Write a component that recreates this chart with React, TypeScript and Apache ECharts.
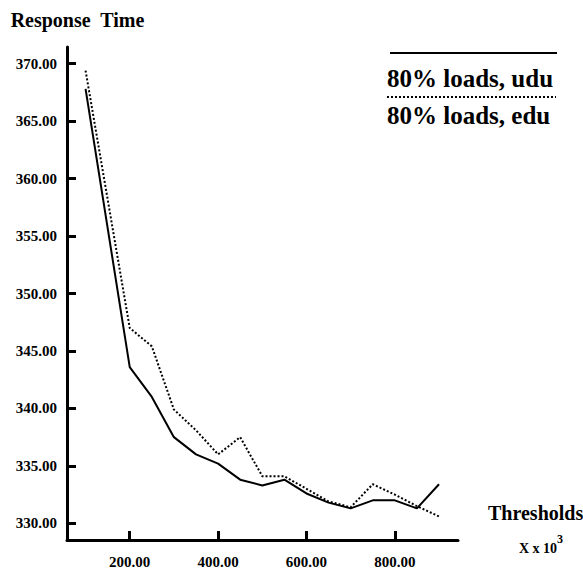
import React, { useEffect, useRef } from "react";
import * as echarts from "echarts";

const thresholds = [100, 200, 250, 300, 350, 400, 450, 500, 550, 600, 650, 700, 750, 800, 850, 900];
const udu = [367.8, 343.6, 341.0, 337.5, 336.0, 335.2, 333.8, 333.3, 333.8, 332.6, 331.8, 331.3, 332.0, 332.0, 331.3, 333.4];
const edu = [369.4, 347.0, 345.4, 339.9, 338.1, 336.0, 337.5, 334.1, 334.1, 333.0, 331.9, 331.4, 333.4, 332.5, 331.5, 330.6];
const xTicks = [200, 400, 600, 800];
const yTicks = [330, 335, 340, 345, 350, 355, 360, 365, 370];
const legendNames = ["80% loads, udu", "80% loads, edu"];

const FONT = '"Liberation Serif", "Times New Roman", serif';

export default function App() {
  const ref = useRef<HTMLDivElement>(null);
  useEffect(() => {
    if (!ref.current) return;
    const chart = echarts.init(ref.current, null, { renderer: "svg" });
    chart.setOption({
      animation: false,
      backgroundColor: "#ffffff",
      grid: { left: 67, top: 47, width: 391, height: 493 },
      xAxis: {
        type: "value",
        min: 58,
        max: 943,
        splitLine: { show: false },
        axisLine: { lineStyle: { color: "#000", width: 3 } },
        axisTick: { inside: true, length: 9, customValues: xTicks, lineStyle: { color: "#000", width: 3 } },
        axisLabel: {
          customValues: xTicks,
          margin: 14,
          color: "#000",
          fontFamily: FONT,
          fontWeight: "bold",
          fontSize: 15,
          formatter: (v: number) => v.toFixed(2),
        },
      },
      yAxis: {
        type: "value",
        min: 328.55,
        max: 371.45,
        name: "Response  Time",
        nameLocation: "end",
        nameGap: 17,
        nameTextStyle: { color: "#000", fontFamily: FONT, fontWeight: "bold", fontSize: 20, padding: [0, 0, 0, 21] },
        splitLine: { show: false },
        axisLine: { lineStyle: { color: "#000", width: 3 } },
        axisTick: { inside: true, length: 9, customValues: yTicks, lineStyle: { color: "#000", width: 3 } },
        axisLabel: {
          customValues: yTicks,
          margin: 10,
          color: "#000",
          fontFamily: FONT,
          fontWeight: "bold",
          fontSize: 15,
          formatter: (v: number) => v.toFixed(2),
        },
      },
      series: [
        {
          name: legendNames[0],
          type: "line",
          data: thresholds.map((x, i) => [x, udu[i]]),
          symbol: "none",
          lineStyle: { color: "#000", width: 2 },
        },
        {
          name: legendNames[1],
          type: "line",
          data: thresholds.map((x, i) => [x, edu[i]]),
          symbol: "none",
          lineStyle: { color: "#000", width: 2, type: [2, 2] },
        },
      ],
      graphic: [
        { type: "line", shape: { x1: 390, y1: 53, x2: 557, y2: 53 }, style: { stroke: "#000", lineWidth: 2 } },
        {
          type: "text",
          x: 387,
          y: 78.5,
          style: { text: legendNames[0], fill: "#000", font: `bold 25px ${FONT}`, verticalAlign: "middle" },
        },
        { type: "line", shape: { x1: 387, y1: 97, x2: 556, y2: 97 }, style: { stroke: "#000", lineWidth: 2, lineDash: [2, 2] } },
        {
          type: "text",
          x: 387,
          y: 115.5,
          style: { text: legendNames[1], fill: "#000", font: `bold 25px ${FONT}`, verticalAlign: "middle" },
        },
        {
          type: "text",
          x: 488,
          y: 513,
          style: { text: "Thresholds", fill: "#000", font: `bold 20px ${FONT}`, verticalAlign: "middle" },
        },
        {
          type: "text",
          x: 519,
          y: 548,
          style: { text: "X x 10", fill: "#000", font: `bold 14px ${FONT}`, verticalAlign: "middle" },
        },
        {
          type: "text",
          x: 557,
          y: 539,
          style: { text: "3", fill: "#000", font: `bold 12px ${FONT}`, verticalAlign: "middle" },
        },
      ],
    });
    return () => chart.dispose();
  }, []);
  return <div ref={ref} style={{ position: "absolute", left: 0, top: 0, width: 583, height: 570 }} />;
}
